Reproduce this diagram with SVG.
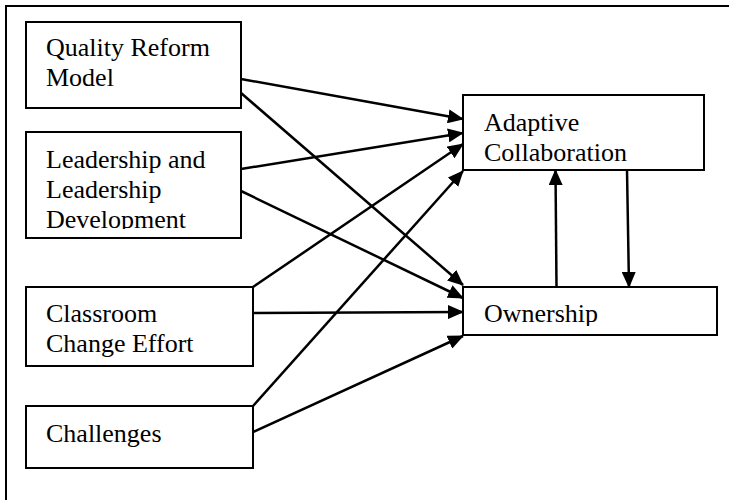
<svg xmlns="http://www.w3.org/2000/svg" width="729" height="500" viewBox="0 0 729 500">
<style>
.box{fill:#fff;stroke:#000;stroke-width:2}
.frame{fill:none;stroke:#000;stroke-width:2}
text{font-family:"Liberation Serif","Times New Roman",serif;font-size:26px;fill:#000}
.c{stroke:#000;stroke-width:2.5;fill:none;marker-end:url(#ah)}
</style>
<defs>
<marker id="ah" viewBox="0 0 16 14" refX="15" refY="7" markerWidth="16" markerHeight="14" markerUnits="userSpaceOnUse" orient="auto">
<path d="M0,0 L16,7 L0,14 Z" fill="#000"/>
</marker>
<clipPath id="clipLead"><rect x="26" y="132" width="215" height="97"/></clipPath>
<clipPath id="clipAdapt"><rect x="463" y="95" width="241" height="66.5"/></clipPath>
<clipPath id="clipClass"><rect x="26" y="287" width="227" height="70"/></clipPath>
<clipPath id="clipOwn"><rect x="463" y="287" width="254" height="39"/></clipPath>
</defs>
<rect class="frame" x="6" y="6" width="740" height="520"/>
<g id="quality">
<rect class="box" x="26" y="22" width="215" height="86"/>
<text x="46" y="56">Quality Reform</text>
<text x="46" y="86">Model</text>
</g>
<g id="leadership">
<rect class="box" x="26" y="132" width="215" height="106"/>
<g clip-path="url(#clipLead)">
<text x="46" y="168">Leadership and</text>
<text x="46" y="198">Leadership</text>
<text x="46" y="228">Development</text>
</g>
</g>
<g id="classroom">
<rect class="box" x="26" y="287" width="227" height="79"/>
<g clip-path="url(#clipClass)">
<text x="46" y="322">Classroom</text>
<text x="46" y="352">Change Effort</text>
</g>
</g>
<g id="challenges">
<rect class="box" x="26" y="406" width="227" height="62"/>
<text x="46" y="442">Challenges</text>
</g>
<g id="adaptive">
<rect class="box" x="463" y="95" width="241" height="75"/>
<g clip-path="url(#clipAdapt)">
<text x="484" y="131">Adaptive</text>
<text x="484" y="161">Collaboration</text>
</g>
</g>
<g id="ownership">
<rect class="box" x="463" y="287" width="254" height="48"/>
<g clip-path="url(#clipOwn)">
<text x="484" y="322">Ownership</text>
</g>
</g>
<g id="connectors">
<line class="c" x1="241" y1="79" x2="463" y2="119"/>
<line class="c" x1="241" y1="93" x2="463" y2="285"/>
<line class="c" x1="241" y1="169" x2="463" y2="133"/>
<line class="c" x1="241" y1="191" x2="463" y2="298"/>
<line class="c" x1="253" y1="287" x2="463" y2="144"/>
<line class="c" x1="253" y1="313" x2="463" y2="312"/>
<line class="c" x1="253" y1="406" x2="463" y2="171"/>
<line class="c" x1="253" y1="432" x2="463" y2="336"/>
<line class="c" x1="556.5" y1="287" x2="555.5" y2="170"/>
<line class="c" x1="627" y1="170" x2="629" y2="287"/>
</g>
</svg>
